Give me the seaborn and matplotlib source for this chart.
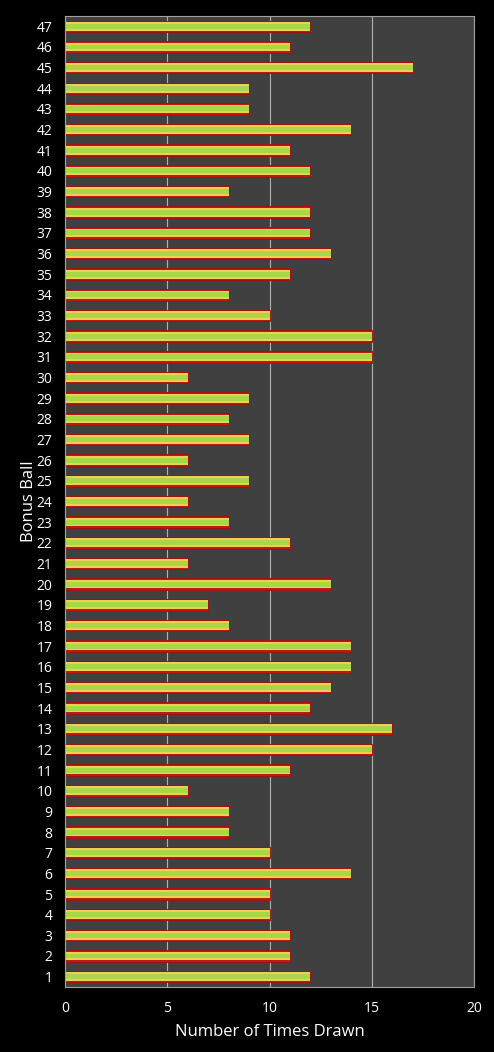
import pandas as pd
import matplotlib
matplotlib.use("Agg")
import matplotlib.pyplot as plt
import seaborn as sns

# bonus ball number -> times drawn
balls = list(range(1, 48))
times_drawn = [12, 11, 11, 10, 10, 14, 10, 8, 8, 6,
               11, 15, 16, 12, 13, 14, 14, 8, 7, 13,
               6, 11, 8, 6, 9, 6, 9, 8, 9, 6,
               15, 15, 10, 8, 11, 13, 12, 12, 8, 12,
               11, 14, 9, 9, 17, 11, 12]
x_ticks = [0, 5, 10, 15, 20]

df = pd.DataFrame({"ball": [str(b) for b in balls], "times": times_drawn})
order = [str(b) for b in reversed(balls)]

sns.set_style("dark")
plt.rcParams["font.family"] = ["Open Sans", "DejaVu Sans"]

fig = plt.figure(figsize=(4.94, 10.52), dpi=100, facecolor="black")
ax = fig.add_axes([0.1316, 0.0618, 0.8279, 0.9230])
ax.set_facecolor("#404040")

# layered bars to fake the red/yellow/green gradient look
sns.barplot(data=df, x="times", y="ball", order=order, orient="h", ax=ax,
            color="#c0180f", width=0.56, saturation=1, edgecolor="#a01010", linewidth=0.6)
sns.barplot(data=df, x="times", y="ball", order=order, orient="h", ax=ax,
            color="#f0d050", width=0.42, saturation=1, linewidth=0)
sns.barplot(data=df, x="times", y="ball", order=order, orient="h", ax=ax,
            color="#a8d848", width=0.24, saturation=1, linewidth=0)

ax.set_xlim(0, 20)
ax.set_xticks(x_ticks)
ax.grid(axis="x", color="#b0b0b0", linewidth=0.8)
ax.grid(axis="y", visible=False)
ax.set_axisbelow(True)
for s in ax.spines.values():
    s.set_visible(True)
    s.set_color("#a0a0a0")
    s.set_linewidth(0.8)

ax.tick_params(colors="white", labelsize=10, length=0, pad=10)
ax.tick_params(axis="y", pad=9)
ax.set_xlabel("Number of Times Drawn", color="white", fontsize=12, labelpad=6)
ax.set_ylabel("Bonus Ball", color="white", fontsize=12, labelpad=0)

fig.savefig("out.png", dpi=100, facecolor="black")
